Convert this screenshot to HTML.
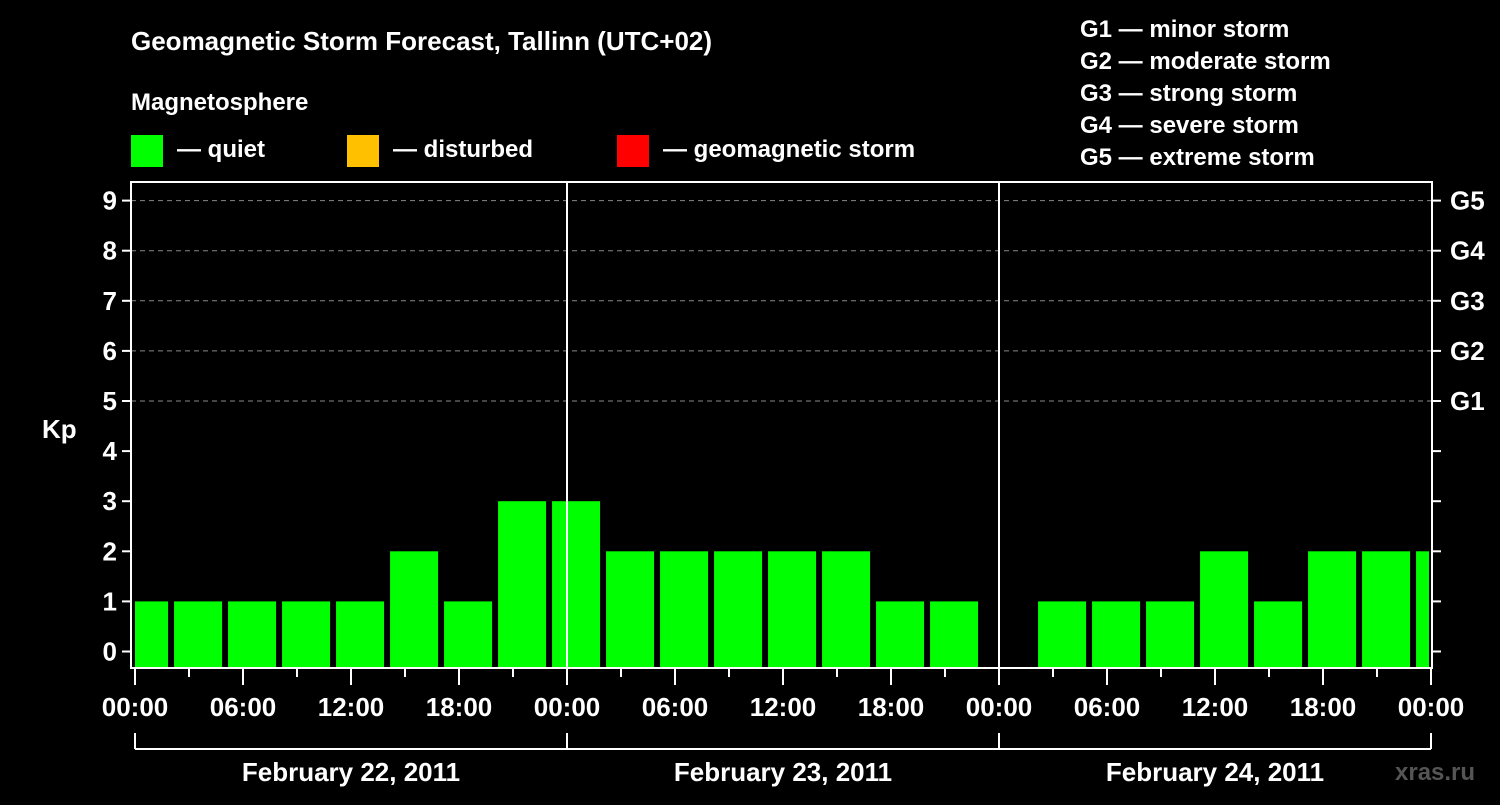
<!DOCTYPE html>
<html><head><meta charset="utf-8"><style>
body{margin:0;background:#000;width:1500px;height:800px;overflow:hidden;font-family:"Liberation Sans",sans-serif}
text{font-family:"Liberation Sans",sans-serif;font-weight:bold;fill:#fff}
</style></head><body>
<svg id="chart" width="1500" height="800" xmlns="http://www.w3.org/2000/svg">
<rect width="1500" height="800" fill="#000"/>
<text x="131" y="50" font-size="26">Geomagnetic Storm Forecast, Tallinn (UTC+02)</text>
<text x="131" y="110" font-size="24">Magnetosphere</text>
<g>
<rect x="131" y="135" width="32" height="32" fill="#00ff00"/>
<text x="177" y="157" font-size="24">— quiet</text>
<rect x="347" y="135" width="32" height="32" fill="#ffc000"/>
<text x="393" y="157" font-size="24">— disturbed</text>
<rect x="617" y="135" width="32" height="32" fill="#ff0000"/>
<text x="663" y="157" font-size="24">— geomagnetic storm</text>
</g>
<g font-size="24">
<text x="1080" y="37">G1 — minor storm</text>
<text x="1080" y="69">G2 — moderate storm</text>
<text x="1080" y="101">G3 — strong storm</text>
<text x="1080" y="133">G4 — severe storm</text>
<text x="1080" y="165">G5 — extreme storm</text>
</g>
<text x="42" y="438" font-size="26">Kp</text>
<text x="1395" y="780" font-size="24" fill="#555" style="fill:#555">xras.ru</text>
<g id="grid"></g>
<g id="bars"></g>
<g id="axes"></g>
</svg>
<script>
const kpValues=[1,1,1,1,1,2,1,3,3,2,2,2,2,2,1,1,null,1,1,1,2,1,2,2,2];
const yTicks=[0,1,2,3,4,5,6,7,8,9];
const gLabels=["G1","G2","G3","G4","G5"];
const gLevels=[5,6,7,8,9];
const hourLabels=["00:00","06:00","12:00","18:00"];
const dayLabels=["February 22, 2011","February 23, 2011","February 24, 2011"];
const NS="http://www.w3.org/2000/svg";
const L=131,R=1432,T=182,B=668;
const y=v=>651.5-v*50.1;
const x=h=>135+h*18;
function mk(tag,attrs,parent,txt){const e=document.createElementNS(NS,tag);for(const k in attrs)e.setAttribute(k,attrs[k]);if(txt!==undefined)e.textContent=txt;document.getElementById(parent).appendChild(e);return e;}
gLevels.forEach((g,i)=>{
 const l=mk('line',{x1:L,x2:R,y1:y(g),y2:y(g),stroke:'#888','stroke-dasharray':'5,4','stroke-width':1},'grid');
 
 
 const t=mk('text',{x:1450,y:y(g)+9,'font-size':26},'axes',gLabels[i]);
 
 
});
kpValues.forEach((v,i)=>{
 if(v===null)return;
 const h0=i*3-0.83;
 let x0=x(h0),x1=x0+48;
 x0=Math.max(x0,L+4);x1=Math.min(x1,R-3);
 const r=mk('rect',{x:x0,y:y(v),width:x1-x0,height:B-y(v),fill:'#00ff00'},'bars');
 
 
});
const ax=document.getElementById('axes');
mk('rect',{x:L,y:T,width:R-L,height:B-T,fill:'none',stroke:'#fff','stroke-width':2},'axes');
[1,2].forEach(d=>{mk('line',{x1:x(d*24),x2:x(d*24),y1:T,y2:B,stroke:'#fff','stroke-width':2},'axes');});
yTicks.forEach(v=>{
 mk('line',{x1:L-9,x2:L,y1:y(v),y2:y(v),stroke:'#fff','stroke-width':2},'axes');
 mk('line',{x1:R,x2:R+9,y1:y(v),y2:y(v),stroke:'#fff','stroke-width':2},'axes');
 const t=mk('text',{x:L-14,y:y(v)+9,'font-size':26,'text-anchor':'end'},'axes',String(v));
 
 
});
for(let h=0;h<=72;h+=3){
 const major=h%6===0;
 mk('line',{x1:x(h),x2:x(h),y1:B,y2:B+(major?17:9),stroke:'#fff','stroke-width':2},'axes');
 if(major){
  const t=mk('text',{x:x(h),y:716,'font-size':26,'text-anchor':'middle'},'axes',hourLabels[(h/6)%4]);
  
  
 }
}
mk('line',{x1:x(0),x2:x(72),y1:749,y2:749,stroke:'#fff','stroke-width':2},'axes');
for(let d=0;d<=3;d++)mk('line',{x1:x(d*24),x2:x(d*24),y1:733,y2:749,stroke:'#fff','stroke-width':2},'axes');
dayLabels.forEach((s,d)=>{
 const t=mk('text',{x:x(d*24+12),y:781,'font-size':26,'text-anchor':'middle'},'axes',s);
 
 
});
</script>
</body></html>
